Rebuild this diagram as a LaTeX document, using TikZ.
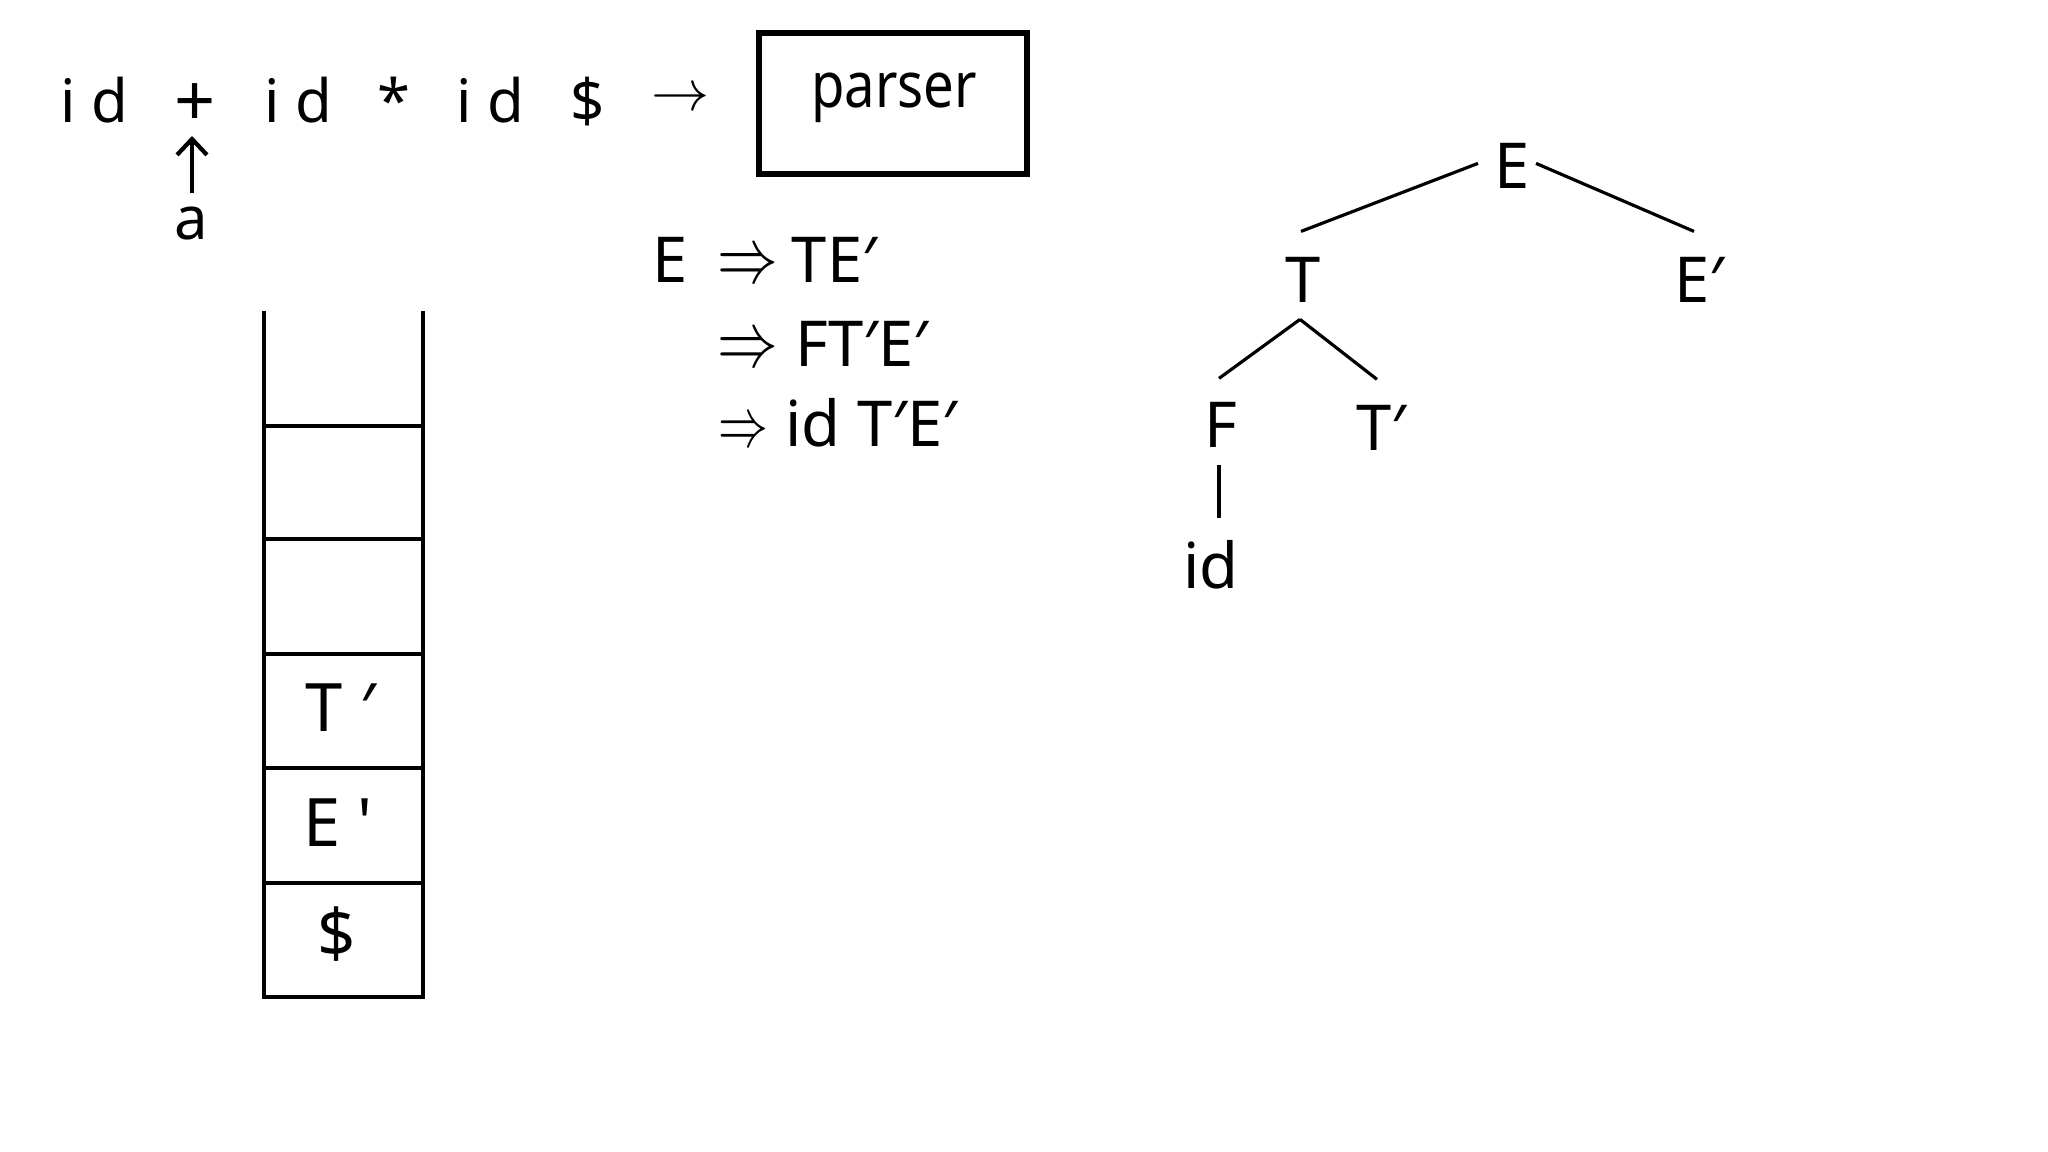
\documentclass[tikz,border=0pt]{standalone}
\usepackage{graphicx}
\usepackage{fontspec}
\newfontfamily\nf{Noto Sans}
\usetikzlibrary{arrows.meta}
\newcommand\myRA[2]{\scalebox{#1}[#2]{$\Rightarrow$}}
\begin{document}
\begin{tikzpicture}[x=0.01cm,y=-0.01cm,
  every node/.style={inner sep=0pt,outer sep=0pt},
  tok/.style={font=\nf\fontsize{17}{20}\selectfont,anchor=base},
  der/.style={font=\nf\fontsize{18}{22}\selectfont,anchor=base west},
  tree/.style={font=\nf\fontsize{18}{22}\selectfont,anchor=base},
  cell/.style={font=\nf\fontsize{19}{22}\selectfont,anchor=base},
  edge/.style={line width=0.9pt},
  stk/.style={line width=1.1pt}]
\useasboundingbox (0,0) rectangle (2048,1152);

% input string
\node[tok] (id1) at (94,123) {i d};
\node[font=\nf\fontsize{20.5}{24}\selectfont] (plus) at (195,105) {+};
\node[tok] (id2) at (298,123) {i d};
\node[tok] (star) at (394,123) {*};
\node[tok] (id3) at (490,123) {i d};
\node[tok] (dol) at (588,123) {\$};
\node (rarr) at (681,100) {\scalebox{1.65}{$\rightarrow$}};
\node[tok] (a) at (191,240) {a};
\draw[line width=1.2pt,-{Straight Barb[length=4.5pt,width=8.5pt,line width=1.2pt]}]
  ([shift={(1,-31)}]a.center) -- ([shift={(-3,31)}]plus.center);

% parser box
\node[draw,line width=1.7pt,minimum width=2.68cm,minimum height=1.41cm] (parser) at (893,103.5) {};
\node[font=\nf\fontsize{18}{22}\selectfont,anchor=base,xscale=0.86] (ptext) at (894,108) {parser};

% derivation
\node[tree] (d0) at (670,283) {E};
\node[der] (d1) at (717,283) {\myRA{1.0}{1.3}\hspace{4pt}TE′};
\node[der] (d2) at (717,367) {\myRA{1.0}{1.3}\hspace{5pt}FT′E′};
\node[der] (d3) at (718,447) {\myRA{0.82}{1.15}\hspace{5pt}id T′E′};

% tree
\node[tree] (E) at (1512,189) {E};
\node[tree] (T) at (1303,303) {T};
\node[tree] (Ep) at (1699,303) {E′};
\node[tree] (F) at (1221,448) {F};
\node[tree] (Tp) at (1381,451) {T′};
\node[tree] (id) at (1211,589) {id};
\draw[edge] ([shift={(-34,-3)}]E.center) -- ([shift={(-2,-49)}]T.center);
\draw[edge] ([shift={(24,-3)}]E.center) -- ([shift={(-5,-49)}]Ep.center);
\draw[edge] ([shift={(-3,39)}]T.center) -- ([shift={(-2,-47)}]F.center);
\draw[edge] ([shift={(-3,39)}]T.center) -- ([shift={(-4,-49)}]Tp.center);
\draw[edge] ([shift={(-2,40)}]F.center) -- ([shift={(8,-47)}]id.center);

% stack
\draw[stk] (264,311) -- (264,997) -- (423,997) -- (423,311);
\foreach \yy in {426,539,654,768,883} \draw[stk] (264,\yy) -- (423,\yy);
\node[cell] (s1) at (341,731) {T ′};
\node[cell] (s2) at (338,846) {E '};
\node[cell] (s3) at (337,957) {\$};
\end{tikzpicture}
\end{document}
